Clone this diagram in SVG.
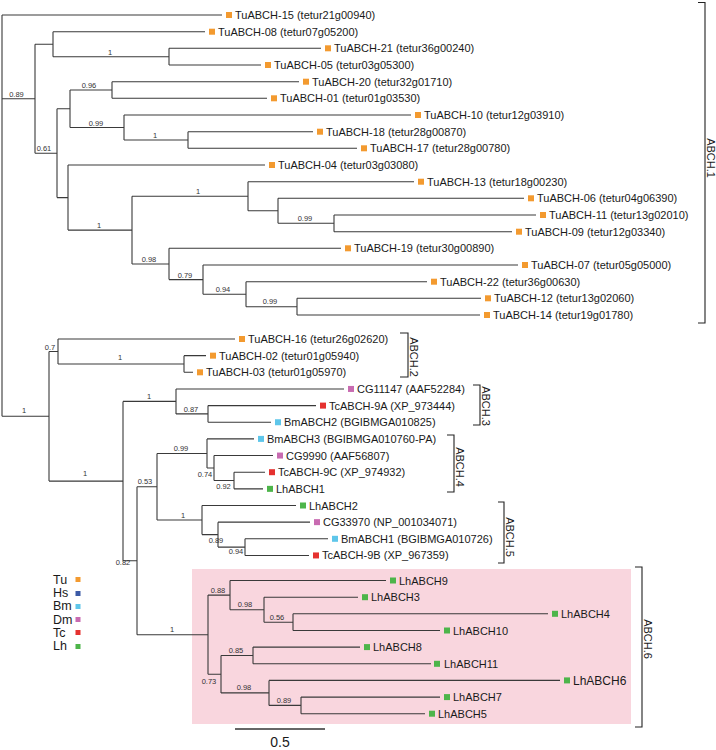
<svg xmlns="http://www.w3.org/2000/svg" width="716" height="750" viewBox="0 0 716 750">
<style>
.br{fill:none;stroke:#3a3a3a;stroke-width:1.1}
.bk{fill:none;stroke:#222;stroke-width:1.1}
.lf{font-family:"Liberation Sans",Arial,sans-serif;font-size:11px;fill:#1a1a1a}
.sp{font-family:"Liberation Sans",Arial,sans-serif;font-size:7.5px;fill:#333;text-anchor:middle}
.cl{font-family:"Liberation Sans",Arial,sans-serif;font-size:11px;fill:#1a1a1a;text-anchor:middle}
.lg{font-family:"Liberation Sans",Arial,sans-serif;font-size:12.5px;fill:#1a1a1a}
.tu{fill:#f39a2f}.hs{fill:#3b5aa6}.bm{fill:#5ec6ea}.dm{fill:#c86bb1}.tc{fill:#e5312f}.lh{fill:#4db54a}
</style>
<rect id="abch6-box" x="192" y="569" width="439" height="155" fill="#f9d6de"/>
<g id="connectors" class="br">
<path d="M2,15V416.3M2,15H222M2,98.7H35M2,416.3H49"/>
<path d="M35,44.2V153.2M35,44.2H53M35,153.2H57"/>
<path d="M53,31.7V56.7M53,31.7H205M53,56.7H169"/>
<path d="M169,48.3V65M169,48.3H321M169,65H261"/>
<path d="M57,108.75V197.6M57,108.75H70M57,197.6H68"/>
<path d="M70,90V127.5M70,90H112M70,127.5H124"/>
<path d="M112,81.7V98.3M112,81.7H299M112,98.3H267"/>
<path d="M124,115V140M124,115H411M124,140H188"/>
<path d="M188,131.7V148.3M188,131.7H313M188,148.3H357"/>
<path d="M68,165V230.1M68,165H265M68,230.1H132"/>
<path d="M132,196.25V264M132,196.25H248M132,264H169"/>
<path d="M248,181.7V210.8M248,181.7H414M248,210.8H278"/>
<path d="M278,198.3V223.3M278,198.3H524M278,223.3H334"/>
<path d="M334,215V231.7M334,215H536M334,231.7H512"/>
<path d="M169,248.3V279.6M169,248.3H341M169,279.6H203"/>
<path d="M203,265V294.2M203,265H518M203,294.2H246"/>
<path d="M246,281.7V306.7M246,281.7H427M246,306.7H297"/>
<path d="M297,298.3V315M297,298.3H481M297,315H480"/>
<path d="M49,351.5V481.1M49,351.5H58M49,481.1H123"/>
<path d="M58,339V364M58,339H235M58,364H184"/>
<path d="M184,355.65V372.3M184,355.65H206M184,372.3H193"/>
<path d="M123,401.4V560.8M123,401.4H176M123,560.8H137"/>
<path d="M176,388.95V413.9M176,388.95H344M176,413.9H208"/>
<path d="M208,405.6V422.25M208,405.6H316M208,422.25H271"/>
<path d="M137,486.8V634.7M137,486.8H157M137,634.7H208"/>
<path d="M157,453.5V520M157,453.5H207M157,520H202"/>
<path d="M207,438.9V468M207,438.9H254M207,468H214"/>
<path d="M214,455.55V480.5M214,455.55H273M214,480.5H234"/>
<path d="M234,472.2V488.85M234,472.2H265M234,488.85H263"/>
<path d="M202,505.5V534.6M202,505.5H296M202,534.6H218"/>
<path d="M218,522.15V547.1M218,522.15H310M218,547.1H245"/>
<path d="M245,538.8V555.45M245,538.8H328M245,555.45H309"/>
<path d="M208,595.1V674.2M208,595.1H230M208,674.2H221"/>
<path d="M230,580.5V609.7M230,580.5H386M230,609.7H264"/>
<path d="M264,597.2V622.2M264,597.2H358M264,622.2H293"/>
<path d="M293,613.8V630.5M293,613.8H548M293,630.5H440"/>
<path d="M221,655.5V692.9M221,655.5H253M221,692.9H269"/>
<path d="M253,647.1V663.8M253,647.1H360M253,663.8H431"/>
<path d="M269,680.4V705.4M269,680.4H560M269,705.4H301"/>
<path d="M301,697.1V713.7M301,697.1H440M301,713.7H425"/>
</g>
<g id="support-labels" class="sp">
<text x="16.5" y="96.8">0.89</text>
<text x="110" y="54.5">1</text>
<text x="89" y="87.5">0.96</text>
<text x="96" y="125.5">0.99</text>
<text x="155" y="137.5">1</text>
<text x="44" y="150.8">0.61</text>
<text x="99" y="227.5">1</text>
<text x="198" y="193.8">1</text>
<text x="305" y="220.8">0.99</text>
<text x="149" y="261.5">0.98</text>
<text x="185" y="277.5">0.79</text>
<text x="223" y="291.8">0.94</text>
<text x="270" y="304.3">0.99</text>
<text x="50" y="349.5">0.7</text>
<text x="120" y="360">1</text>
<text x="24" y="412.8">1</text>
<text x="85" y="476">1</text>
<text x="149" y="398.8">1</text>
<text x="191" y="411.5">0.87</text>
<text x="123" y="564.5">0.82</text>
<text x="145" y="483.8">0.53</text>
<text x="181" y="450.8">0.99</text>
<text x="205" y="476.8">0.74</text>
<text x="223.5" y="488.8">0.92</text>
<text x="183" y="517.5">1</text>
<text x="216" y="542.8">0.89</text>
<text x="236" y="553.8">0.94</text>
<text x="172" y="631.8">1</text>
<text x="218" y="592.8">0.88</text>
<text x="245" y="606.8">0.98</text>
<text x="277" y="619.8">0.56</text>
<text x="209" y="683.8">0.73</text>
<text x="236" y="652.8">0.85</text>
<text x="244" y="690.3">0.98</text>
<text x="284" y="702.8">0.89</text>
</g>
<g id="leaf-TuABCH-15"><rect class="tu" x="226" y="12" width="6" height="6"/><text class="lf" x="235" y="19">TuABCH-15 (tetur21g00940)</text></g>
<g id="leaf-TuABCH-08"><rect class="tu" x="209" y="28.7" width="6" height="6"/><text class="lf" x="218" y="35.7">TuABCH-08 (tetur07g05200)</text></g>
<g id="leaf-TuABCH-21"><rect class="tu" x="325" y="45.3" width="6" height="6"/><text class="lf" x="334" y="52.3">TuABCH-21 (tetur36g00240)</text></g>
<g id="leaf-TuABCH-05"><rect class="tu" x="265" y="62" width="6" height="6"/><text class="lf" x="274" y="69">TuABCH-05 (tetur03g05300)</text></g>
<g id="leaf-TuABCH-20"><rect class="tu" x="303" y="78.7" width="6" height="6"/><text class="lf" x="312" y="85.7">TuABCH-20 (tetur32g01710)</text></g>
<g id="leaf-TuABCH-01"><rect class="tu" x="271" y="95.3" width="6" height="6"/><text class="lf" x="280" y="102.3">TuABCH-01 (tetur01g03530)</text></g>
<g id="leaf-TuABCH-10"><rect class="tu" x="415" y="112" width="6" height="6"/><text class="lf" x="424" y="119">TuABCH-10 (tetur12g03910)</text></g>
<g id="leaf-TuABCH-18"><rect class="tu" x="317" y="128.7" width="6" height="6"/><text class="lf" x="326" y="135.7">TuABCH-18 (tetur28g00870)</text></g>
<g id="leaf-TuABCH-17"><rect class="tu" x="361" y="145.3" width="6" height="6"/><text class="lf" x="370" y="152.3">TuABCH-17 (tetur28g00780)</text></g>
<g id="leaf-TuABCH-04"><rect class="tu" x="269" y="162" width="6" height="6"/><text class="lf" x="278" y="169">TuABCH-04 (tetur03g03080)</text></g>
<g id="leaf-TuABCH-13"><rect class="tu" x="418" y="178.7" width="6" height="6"/><text class="lf" x="427" y="185.7">TuABCH-13 (tetur18g00230)</text></g>
<g id="leaf-TuABCH-06"><rect class="tu" x="528" y="195.3" width="6" height="6"/><text class="lf" x="537" y="202.3">TuABCH-06 (tetur04g06390)</text></g>
<g id="leaf-TuABCH-11"><rect class="tu" x="540" y="212" width="6" height="6"/><text class="lf" x="549" y="219">TuABCH-11 (tetur13g02010)</text></g>
<g id="leaf-TuABCH-09"><rect class="tu" x="516" y="228.7" width="6" height="6"/><text class="lf" x="525" y="235.7">TuABCH-09 (tetur12g03340)</text></g>
<g id="leaf-TuABCH-19"><rect class="tu" x="345" y="245.3" width="6" height="6"/><text class="lf" x="354" y="252.3">TuABCH-19 (tetur30g00890)</text></g>
<g id="leaf-TuABCH-07"><rect class="tu" x="522" y="262" width="6" height="6"/><text class="lf" x="531" y="269">TuABCH-07 (tetur05g05000)</text></g>
<g id="leaf-TuABCH-22"><rect class="tu" x="431" y="278.7" width="6" height="6"/><text class="lf" x="440" y="285.7">TuABCH-22 (tetur36g00630)</text></g>
<g id="leaf-TuABCH-12"><rect class="tu" x="485" y="295.3" width="6" height="6"/><text class="lf" x="494" y="302.3">TuABCH-12 (tetur13g02060)</text></g>
<g id="leaf-TuABCH-14"><rect class="tu" x="484" y="312" width="6" height="6"/><text class="lf" x="493" y="319">TuABCH-14 (tetur19g01780)</text></g>
<g id="leaf-TuABCH-16"><rect class="tu" x="239" y="336" width="6" height="6"/><text class="lf" x="248" y="343">TuABCH-16 (tetur26g02620)</text></g>
<g id="leaf-TuABCH-02"><rect class="tu" x="210" y="352.65" width="6" height="6"/><text class="lf" x="219" y="359.65">TuABCH-02 (tetur01g05940)</text></g>
<g id="leaf-TuABCH-03"><rect class="tu" x="197" y="369.3" width="6" height="6"/><text class="lf" x="206" y="376.3">TuABCH-03 (tetur01g05970)</text></g>
<g id="leaf-CG11147"><rect class="dm" x="348" y="385.95" width="6" height="6"/><text class="lf" x="357" y="392.95">CG11147 (AAF52284)</text></g>
<g id="leaf-TcABCH-9A"><rect class="tc" x="320" y="402.6" width="6" height="6"/><text class="lf" x="329" y="409.6">TcABCH-9A (XP_973444)</text></g>
<g id="leaf-BmABCH2"><rect class="bm" x="275" y="419.25" width="6" height="6"/><text class="lf" x="284" y="426.25">BmABCH2 (BGIBMGA010825)</text></g>
<g id="leaf-BmABCH3"><rect class="bm" x="258" y="435.9" width="6" height="6"/><text class="lf" x="267" y="442.9">BmABCH3 (BGIBMGA010760-PA)</text></g>
<g id="leaf-CG9990"><rect class="dm" x="277" y="452.55" width="6" height="6"/><text class="lf" x="286" y="459.55">CG9990 (AAF56807)</text></g>
<g id="leaf-TcABCH-9C"><rect class="tc" x="269" y="469.2" width="6" height="6"/><text class="lf" x="278" y="476.2">TcABCH-9C (XP_974932)</text></g>
<g id="leaf-LhABCH1"><rect class="lh" x="267" y="485.85" width="6" height="6"/><text class="lf" x="276" y="492.85">LhABCH1</text></g>
<g id="leaf-LhABCH2"><rect class="lh" x="300" y="502.5" width="6" height="6"/><text class="lf" x="309" y="509.5">LhABCH2</text></g>
<g id="leaf-CG33970"><rect class="dm" x="314" y="519.15" width="6" height="6"/><text class="lf" x="323" y="526.15">CG33970 (NP_001034071)</text></g>
<g id="leaf-BmABCH1"><rect class="bm" x="332" y="535.8" width="6" height="6"/><text class="lf" x="341" y="542.8">BmABCH1 (BGIBMGA010726)</text></g>
<g id="leaf-TcABCH-9B"><rect class="tc" x="313" y="552.45" width="6" height="6"/><text class="lf" x="322" y="559.45">TcABCH-9B (XP_967359)</text></g>
<g id="leaf-LhABCH9"><rect class="lh" x="390" y="577.5" width="6" height="6"/><text class="lf" x="399" y="584.5">LhABCH9</text></g>
<g id="leaf-LhABCH3"><rect class="lh" x="362" y="594.2" width="6" height="6"/><text class="lf" x="371" y="601.2">LhABCH3</text></g>
<g id="leaf-LhABCH4"><rect class="lh" x="552" y="610.8" width="6" height="6"/><text class="lf" x="561" y="617.8">LhABCH4</text></g>
<g id="leaf-LhABCH10"><rect class="lh" x="444" y="627.5" width="6" height="6"/><text class="lf" x="453" y="634.5">LhABCH10</text></g>
<g id="leaf-LhABCH8"><rect class="lh" x="364" y="644.1" width="6" height="6"/><text class="lf" x="373" y="651.1">LhABCH8</text></g>
<g id="leaf-LhABCH11"><rect class="lh" x="434" y="660.8" width="6" height="6"/><text class="lf" x="444" y="667.8">LhABCH11</text></g>
<g id="leaf-LhABCH6"><rect class="lh" x="564" y="677.4" width="6" height="6"/><text class="lf" x="573" y="684.8" style="font-size:12px">LhABCH6</text></g>
<g id="leaf-LhABCH7"><rect class="lh" x="444" y="694.1" width="6" height="6"/><text class="lf" x="453" y="701.1">LhABCH7</text></g>
<g id="leaf-LhABCH5"><rect class="lh" x="429" y="710.7" width="6" height="6"/><text class="lf" x="438" y="717.7">LhABCH5</text></g>
<g id="clade-ABCH1"><path class="bk" d="M698,2.5H705V323H698"/><text class="cl" transform="translate(707,158) rotate(90)">ABCH.1</text></g>
<g id="clade-ABCH2"><path class="bk" d="M400,333H408V377H400"/><text class="cl" transform="translate(410,357) rotate(90)">ABCH.2</text></g>
<g id="clade-ABCH3"><path class="bk" d="M473,385H480V425H473"/><text class="cl" transform="translate(482,406) rotate(90)">ABCH.3</text></g>
<g id="clade-ABCH4"><path class="bk" d="M447,435H454V492H447"/><text class="cl" transform="translate(456,467) rotate(90)">ABCH.4</text></g>
<g id="clade-ABCH5"><path class="bk" d="M498,502H504V563H498"/><text class="cl" transform="translate(506,537) rotate(90)">ABCH.5</text></g>
<g id="clade-ABCH6"><path class="bk" d="M635,567H642V727H635"/><text class="cl" transform="translate(644,639) rotate(90)">ABCH.6</text></g>
<g id="legend">
<text class="lg" x="53" y="584">Tu</text><rect class="tu" x="75.5" y="577" width="5" height="5"/>
<text class="lg" x="53" y="597.2">Hs</text><rect class="hs" x="75.5" y="591" width="5" height="5"/>
<text class="lg" x="53" y="610.4">Bm</text><rect class="bm" x="75.5" y="604" width="5" height="5"/>
<text class="lg" x="53" y="623.6">Dm</text><rect class="dm" x="75.5" y="617" width="5" height="5"/>
<text class="lg" x="53" y="636.8">Tc</text><rect class="tc" x="75.5" y="630" width="5" height="5"/>
<text class="lg" x="53" y="650">Lh</text><rect class="lh" x="75.5" y="644" width="5" height="5"/>
</g>
<g id="scale-bar">
<path d="M235,729H325" stroke="#333" stroke-width="1.6" fill="none"/>
<text x="280" y="747" style="font-family:'Liberation Sans',Arial,sans-serif;font-size:14px;fill:#1a1a1a;text-anchor:middle">0.5</text>
</g>
</svg>
